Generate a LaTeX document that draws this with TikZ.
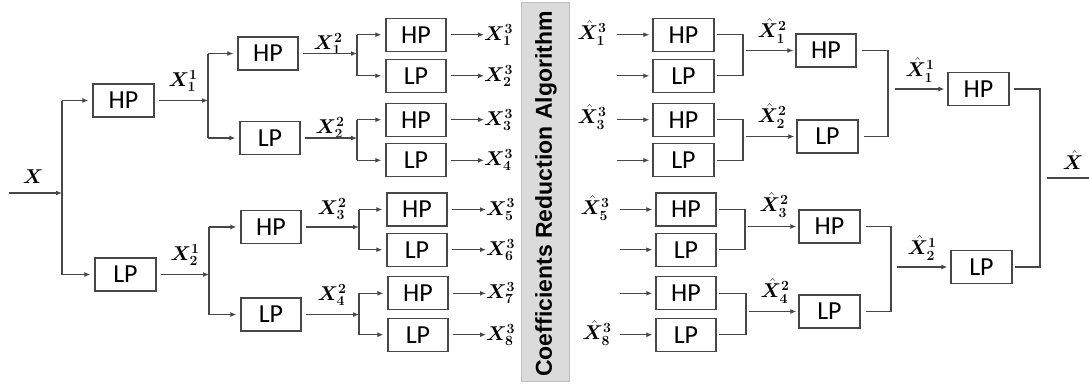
\RequirePackage{fix-cm}
\documentclass[tikz,border=0pt]{standalone}
\usepackage{amsmath}
\usepackage{bm}
\usepackage{fontspec}
\usetikzlibrary{arrows.meta}
\newfontfamily\boxfam{Carlito}
\newfontfamily\bandfam{Liberation Sans}
\newcommand{\Xl}[2]{$\bm{X}^{\bm{#2}}_{\bm{#1}}$}
\newcommand{\Xh}[2]{$\hat{\bm{X}}^{\bm{#2}}_{\bm{#1}}$}
\tikzset{
  box/.style={draw=black!72, line width=1.3bp, minimum width=61bp, minimum height=33bp,
    inner sep=0pt, font=\boxfam\fontsize{26bp}{26bp}\selectfont},
  ln/.style={draw=black!72, line width=1.3bp},
  arr/.style={ln, -{Latex[length=6bp,width=5bp]}},
  lab/.style={inner sep=0pt, font=\fontsize{20bp}{20bp}\selectfont},
  band/.style={fill=black!14, draw=black!25, line width=0.8bp}
}
\begin{document}
\begin{tikzpicture}[x=1bp,y=-1bp]
\useasboundingbox (0,0) rectangle (1089,385);

% ---------------- analysis tree ----------------
\node[box] (hp1) at (123.5,100.5) {HP};
\node[box] (lp1) at (125.5,274.5) {LP};
\node[box,minimum width=60bp] (hp2a) at (268,53.5) {HP};
\node[box,minimum width=60bp] (lp2a) at (270,138) {LP};
\node[box,minimum width=60bp] (hp2b) at (271,227) {HP};
\node[box,minimum width=60bp] (lp2b) at (271,314.5) {LP};
\node[box,minimum width=60bp] (hp3a) at (416,34.7) {HP};
\node[box,minimum width=60bp] (lp3a) at (416,75.8) {LP};
\node[box,minimum width=60bp] (hp3b) at (416,119.7) {HP};
\node[box,minimum width=60bp] (lp3b) at (416,160.3) {LP};
\node[box,minimum width=60bp] (hp3c) at (417,209.5) {HP};
\node[box,minimum width=60bp] (lp3c) at (417,249.7) {LP};
\node[box,minimum width=60bp] (hp3d) at (418,293.3) {HP};
\node[box,minimum width=60bp] (lp3d) at (418,334.7) {LP};

% input and first split
\coordinate (xin) at (9,193);
\coordinate (s0) at (62,193);
\node[lab] (lx) at (33,177) {$\bm{X}$};
\draw[arr] (xin) -- (s0);
\draw[ln] (s0 |- hp1.west) -- (s0 |- lp1.west);
\draw[arr,shorten >=4bp] (s0 |- hp1.west) -- (hp1.west);
\draw[arr,shorten >=4bp] (s0 |- lp1.west) -- (lp1.west);

% second level splits
\coordinate (s1) at (208,0);
\coordinate (s2) at (209,0);
\node[lab] (lx11) at (183,81) {\Xl{1}{1}};
\node[lab] (lx21) at (185,255) {\Xl{2}{1}};
\draw[arr,shorten <=4bp] (hp1.east) -- (s1 |- hp1.east);
\draw[ln] (s1 |- hp2a.west) -- (s1 |- lp2a.west);
\draw[arr,shorten >=4bp] (s1 |- hp2a.west) -- (hp2a.west);
\draw[arr,shorten >=4bp] (s1 |- lp2a.west) -- (lp2a.west);
\draw[arr,shorten <=4bp] (lp1.east) -- (s2 |- lp1.east);
\draw[ln] (s2 |- hp2b.west) -- (s2 |- lp2b.west);
\draw[arr,shorten >=4bp] (s2 |- hp2b.west) -- (hp2b.west);
\draw[arr,shorten >=4bp] (s2 |- lp2b.west) -- (lp2b.west);

% third level splits
\coordinate (s3) at (357,0);
\coordinate (s4) at (359,0);
\node[lab] (lx12) at (328,44) {\Xl{1}{2}};
\node[lab] (lx22) at (330,128) {\Xl{2}{2}};
\node[lab] (lx32) at (332,209) {\Xl{3}{2}};
\node[lab] (lx42) at (332,295) {\Xl{4}{2}};
\draw[arr,shorten <=4bp] (hp2a.east) -- (s3 |- hp2a.east);
\draw[ln] (s3 |- hp3a.west) -- (s3 |- lp3a.west);
\draw[arr,shorten >=4bp] (s3 |- hp3a.west) -- (hp3a.west);
\draw[arr,shorten >=4bp] (s3 |- lp3a.west) -- (lp3a.west);
\draw[arr,shorten <=4bp] (lp2a.east) -- (s3 |- lp2a.east);
\draw[ln] (s3 |- hp3b.west) -- (s3 |- lp3b.west);
\draw[arr,shorten >=4bp] (s3 |- hp3b.west) -- (hp3b.west);
\draw[arr,shorten >=4bp] (s3 |- lp3b.west) -- (lp3b.west);
\draw[arr,shorten <=4bp] (hp2b.east) -- (s4 |- hp2b.east);
\draw[ln] (s4 |- hp3c.west) -- (s4 |- lp3c.west);
\draw[arr,shorten >=4bp] (s4 |- hp3c.west) -- (hp3c.west);
\draw[arr,shorten >=4bp] (s4 |- lp3c.west) -- (lp3c.west);
\draw[arr,shorten <=4bp] (lp2b.east) -- (s4 |- lp2b.east);
\draw[ln] (s4 |- hp3d.west) -- (s4 |- lp3d.west);
\draw[arr,shorten >=4bp] (s4 |- hp3d.west) -- (hp3d.west);
\draw[arr,shorten >=4bp] (s4 |- lp3d.west) -- (lp3d.west);

% outputs of the analysis tree
\node[lab,anchor=west] (o1) at (484,34.7)  {\Xl{1}{3}};
\node[lab,anchor=west] (o2) at (484,75.8)  {\Xl{2}{3}};
\node[lab,anchor=west] (o3) at (484,119.7) {\Xl{3}{3}};
\node[lab,anchor=west] (o4) at (484,160.3) {\Xl{4}{3}};
\node[lab,anchor=west] (o5) at (486,209.5) {\Xl{5}{3}};
\node[lab,anchor=west] (o6) at (486,249.7) {\Xl{6}{3}};
\node[lab,anchor=west] (o7) at (486,293.3) {\Xl{7}{3}};
\node[lab,anchor=west] (o8) at (486,334.7) {\Xl{8}{3}};
\foreach \b/\o in {hp3a/o1,lp3a/o2,hp3b/o3,lp3b/o4,hp3c/o5,lp3c/o6,hp3d/o7,lp3d/o8}
  \draw[arr,shorten <=4bp] (\b.east) -- (\b.east -| \o.west);

% ---------------- reduction stage ----------------
\node[band,minimum width=48bp,minimum height=379bp,inner sep=0pt] (crb) at (545.5,191.5) {};
\node[rotate=90,inner sep=0pt,font=\bandfam\bfseries\fontsize{23bp}{23bp}\selectfont] (crt) at (546,194) {Coefficients Reduction Algorithm};

% ---------------- synthesis tree ----------------
\node[box] (rh3a) at (683.5,34.7) {HP};
\node[box] (rl3a) at (683.5,75.8) {LP};
\node[box] (rh3b) at (683.5,119.7) {HP};
\node[box] (rl3b) at (683.5,160.3) {LP};
\node[box,minimum width=60bp] (rh3c) at (686,209.5) {HP};
\node[box,minimum width=60bp] (rl3c) at (686,249.7) {LP};
\node[box,minimum width=60bp] (rh3d) at (686,293.3) {HP};
\node[box,minimum width=60bp] (rl3d) at (686,334.7) {LP};
\node[box,minimum width=60bp] (rh2a) at (826,50.5) {HP};
\node[box] (rl2a) at (827.5,136.5) {LP};
\node[box] (rh2b) at (829.5,226.5) {HP};
\node[box] (rl2b) at (829.5,311.5) {LP};
\node[box] (rh1) at (978.5,89) {HP};
\node[box] (rl1) at (981.5,267) {LP};

% inputs of the synthesis tree
\coordinate (ri1) at (617,0);
\coordinate (ri2) at (620,0);
\node[lab] (ix1) at (592,33)  {\Xh{1}{3}};
\node[lab] (ix3) at (592,117) {\Xh{3}{3}};
\node[lab] (ix5) at (595,208) {\Xh{5}{3}};
\node[lab] (ix8) at (597,333) {\Xh{8}{3}};
\foreach \b in {rh3a,rl3a,rh3b,rl3b}
  \draw[arr,shorten >=3bp] (ri1 |- \b.west) -- (\b.west);
\foreach \b in {rh3c,rl3c,rh3d,rl3d}
  \draw[arr,shorten >=3bp] (ri2 |- \b.west) -- (\b.west);

% first merges
\coordinate (m1) at (743,0);
\coordinate (m2) at (745,0);
\coordinate (m3) at (746,0);
\node[lab] (hx12) at (772,31)  {\Xh{1}{2}};
\node[lab] (hx22) at (772,116) {\Xh{2}{2}};
\node[lab] (hx32) at (774,205) {\Xh{3}{2}};
\node[lab] (hx42) at (775,291) {\Xh{4}{2}};
\draw[ln,shorten <=2bp,shorten >=2bp] (rh3a.east) -- (m1 |- rh3a.east) -- (m1 |- rl3a.east) -- (rl3a.east);
\draw[arr,shorten <=3bp,shorten >=2bp] (m1 |- rh2a.west) -- (rh2a.west);
\draw[ln,shorten <=2bp,shorten >=2bp] (rh3b.east) -- (m1 |- rh3b.east) -- (m1 |- rl3b.east) -- (rl3b.east);
\draw[arr,shorten <=3bp,shorten >=2bp] (m1 |- rl2a.west) -- (rl2a.west);
\draw[ln,shorten <=2bp,shorten >=2bp] (rh3c.east) -- (m2 |- rh3c.east) -- (m2 |- rl3c.east) -- (rl3c.east);
\draw[arr,shorten <=3bp,shorten >=2bp] (m2 |- rh2b.west) -- (rh2b.west);
\draw[ln,shorten <=2bp,shorten >=2bp] (rh3d.east) -- (m3 |- rh3d.east) -- (m3 |- rl3d.east) -- (rl3d.east);
\draw[arr,shorten <=3bp,shorten >=2bp] (m3 |- rl2b.west) -- (rl2b.west);

% second merges
\coordinate (m5) at (888,0);
\coordinate (m6) at (891,0);
\node[lab] (hx11) at (920,70)  {\Xh{1}{1}};
\node[lab] (hx21) at (922,248) {\Xh{2}{1}};
\draw[ln,shorten <=5bp,shorten >=5bp] (rh2a.east) -- (m5 |- rh2a.east) -- (m5 |- rl2a.east) -- (rl2a.east);
\draw[arr,shorten <=7bp,shorten >=3bp] (m5 |- rh1.west) -- (rh1.west);
\draw[ln,shorten <=5bp,shorten >=5bp] (rh2b.east) -- (m6 |- rh2b.east) -- (m6 |- rl2b.east) -- (rl2b.east);
\draw[arr,shorten <=6bp,shorten >=3bp] (m6 |- rl1.west) -- (rl1.west);

% final merge and output
\coordinate (m7) at (1040,0);
\coordinate (xo) at (1089,178);
\node[lab] (hx) at (1073,160) {$\hat{\bm{X}}$};
\draw[ln,shorten <=4bp,shorten >=2bp] (rh1.east) -- (m7 |- rh1.east) -- (m7 |- rl1.east) -- (rl1.east);
\draw[ln,shorten <=7bp] (m7 |- xo) -- (xo);
\end{tikzpicture}
\end{document}
